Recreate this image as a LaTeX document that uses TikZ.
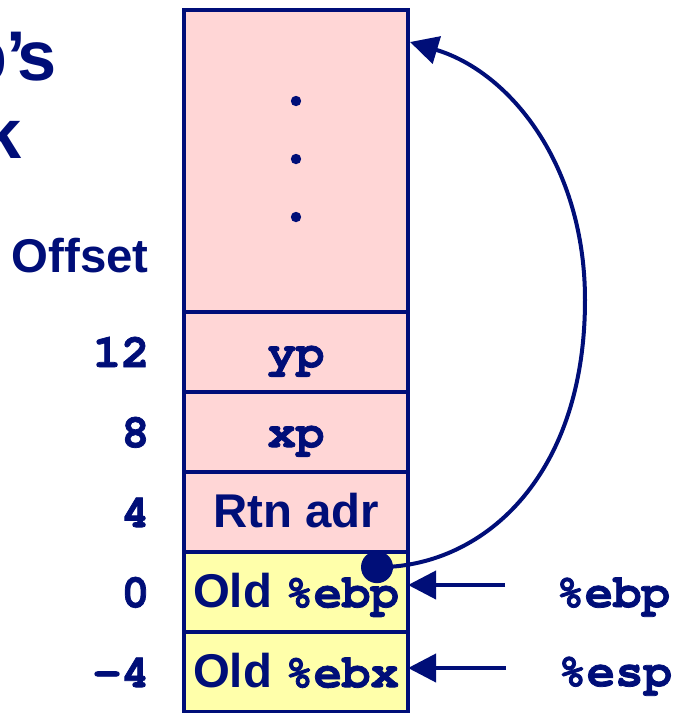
\documentclass[tikz,border=0pt]{standalone}
\usepackage{fontspec}
\setmainfont{Liberation Sans}
\setmonofont[BoldFeatures={FakeBold=1.6}]{TeX Gyre Cursor}
\usetikzlibrary{arrows.meta}
\definecolor{stackblue}{RGB}{0,14,120}
\definecolor{framepink}{RGB}{255,214,214}
\definecolor{framegold}{RGB}{255,255,170}
\newcommand{\slidefont}{\fontsize{33.7}{40}\selectfont\bfseries}
\newcommand{\titlefont}{\fontsize{50}{58}\selectfont\bfseries}
\tikzstyle{cell} = [rectangle, draw=stackblue, line width=1mm, minimum width=5.6cm, minimum height=2cm, anchor=north, inner sep=0pt, outer sep=0pt, text height=0.95cm, text depth=0.2cm, font=\slidefont, text=stackblue]
\tikzstyle{offset} = [anchor=east, inner sep=0pt, text height=0.95cm, text depth=0.2cm, font=\slidefont\ttfamily, text=stackblue]
\tikzstyle{reglabel} = [anchor=base west, inner sep=0pt, font=\slidefont\ttfamily, text=stackblue]
\tikzstyle{ptr} = [draw=stackblue, line width=1mm, -{Triangle[length=0.7cm,width=0.7cm]}]

\begin{document}
\begin{tikzpicture}[x=0.025cm, y=-0.025cm]
	\useasboundingbox (0,0) rectangle (673,713);
	% stack frame, top to bottom
	\node[cell, fill=framepink, minimum height=7.55cm] at (296,10) (dots) {};
	\node[cell, fill=framepink] at (dots.south) (yp) {\ttfamily yp};
	\node[cell, fill=framepink] at (yp.south) (xp) {\ttfamily xp};
	\node[cell, fill=framepink] at (xp.south) (rtn) {Rtn adr};
	\node[cell, fill=framegold] at (rtn.south) (oldebp) {Old \texttt{\%ebp}};
	\node[cell, fill=framegold] at (oldebp.south) (oldebx) {Old \texttt{\%ebx}};
	\foreach \dy in {91,149,207}{
		\fill[stackblue] ([yshift=-\dy*0.025cm]dots.north) circle[radius=0.13cm];
	}

	% offsets
	\node[anchor=base east, inner sep=0pt, font=\slidefont, text=stackblue] at (149,272) (offsethead) {Offset};
	\foreach \cellname/\offs in {yp/12, xp/8, rtn/4, oldebp/0, oldebx/-4}{
		\node[offset] at ([xshift=-0.85cm]\cellname.west) (off-\cellname) {\offs};
	}

	% title, cut by the border
	\node[anchor=base east, inner sep=0pt, font=\titlefont, text=stackblue] at (57,80) (title1) {p\kern-0.02em’\kern-0.12em s};
	\node[anchor=base east, inner sep=0pt, font=\titlefont, text=stackblue] at (22,158) (title2) {k};

	% registers
	\node[reglabel] at (556,607) (ebplbl) {\%ebp};
	\node[reglabel] at (558,686) (esplbl) {\%esp};
	\coordinate (ebptail) at (505,585);
	\coordinate (esptail) at (506,668);
	\draw[ptr] (ebptail) -- (ebptail -| oldebp.east);
	\draw[ptr] (esptail) -- (esptail -| oldebx.east);

	% saved frame pointer
	\coordinate (ebpdot) at ([xshift=-0.775cm, yshift=-0.375cm]oldebp.north east);
	\coordinate (dotstip) at ([xshift=0.05cm, yshift=-0.8cm]dots.north east);
	\fill[stackblue] (ebpdot) circle[radius=0.4cm];
	\draw[ptr] (ebpdot) .. controls (480,568) and (585,480) .. (585,300)
		.. controls (585,165) and (510,72) .. (dotstip);
\end{tikzpicture}
\end{document}
